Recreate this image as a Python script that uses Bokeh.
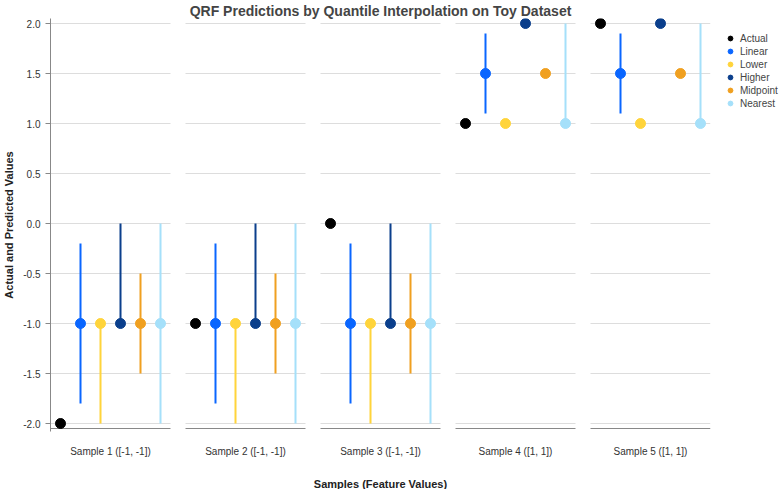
from bokeh.plotting import figure
from bokeh.models import Range1d, FixedTicker, Legend, LegendItem
from bokeh.embed import file_html
from bokeh.resources import INLINE

# data
samples = ["Sample 1 ([-1, -1])", "Sample 2 ([-1, -1])", "Sample 3 ([-1, -1])",
           "Sample 4 ([1, 1])", "Sample 5 ([1, 1])"]
actual = [-2, -1, 0, 1, 2]
methods = ["Linear", "Lower", "Higher", "Midpoint", "Nearest"]
pred = {
    "Linear":   [-1, -1, -1, 1.5, 1.5],
    "Lower":    [-1, -1, -1, 1, 1],
    "Higher":   [-1, -1, -1, 2, 2],
    "Midpoint": [-1, -1, -1, 1.5, 1.5],
    "Nearest":  [-1, -1, -1, 1, 1],
}
low = {
    "Linear":   [-1.8, -1.8, -1.8, 1.1, 1.1],
    "Lower":    [-2, -2, -2, 1, 1],
    "Higher":   [-1, -1, -1, 2, 2],
    "Midpoint": [-1.5, -1.5, -1.5, 1.5, 1.5],
    "Nearest":  [-2, -2, -2, 1, 1],
}
high = {
    "Linear":   [-0.2, -0.2, -0.2, 1.9, 1.9],
    "Lower":    [-1, -1, -1, 1, 1],
    "Higher":   [0, 0, 0, 2, 2],
    "Midpoint": [-0.5, -0.5, -0.5, 1.5, 1.5],
    "Nearest":  [0, 0, 0, 2, 2],
}
y_ticks = [-2.0, -1.5, -1.0, -0.5, 0.0, 0.5, 1.0, 1.5, 2.0]
colors = {"Actual": "#000000", "Linear": "#0a66ff", "Lower": "#ffd43b",
          "Higher": "#0b3f8c", "Midpoint": "#f0a020", "Nearest": "#a5e0fa"}

panel_w, gap, step = 120, 15, 20
starts = [i * (panel_w + gap) for i in range(len(samples))]

p = figure(frame_width=660, frame_height=413, output_backend="svg", toolbar_location=None,
           x_range=Range1d(0, starts[-1] + panel_w), y_range=Range1d(-2.08, 2.05),
           min_border_left=39, min_border_right=0, min_border_top=0, min_border_bottom=0)
p.title.text = "QRF Predictions by Quantile Interpolation on Toy Dataset"
p.title.align = "center"
p.title.text_font = "Liberation Sans"
p.title.text_font_size = "14px"
p.title.standoff = 0
p.outline_line_color = None
p.grid.visible = False

# gridlines and bottom line per panel
for s in starts:
    p.segment(x0=[s] * len(y_ticks), x1=[s + panel_w] * len(y_ticks),
              y0=y_ticks, y1=y_ticks, line_color="#dddddd", line_width=1)
    p.segment(x0=[s], x1=[s + panel_w], y0=[-2.05], y1=[-2.05], line_color="#888888", line_width=1)

items = []
r = p.scatter([s + 10 for s in starts], actual, size=10, color=colors["Actual"])
items.append(LegendItem(label="Actual", renderers=[r]))
for j, m in enumerate(methods):
    xs = [s + 10 + step * (j + 1) for s in starts]
    p.segment(x0=xs, x1=xs, y0=low[m], y1=high[m], line_color=colors[m], line_width=2)
    r = p.scatter(xs, pred[m], size=10, color=colors[m])
    items.append(LegendItem(label=m, renderers=[r]))

p.yaxis.ticker = FixedTicker(ticks=y_ticks)
p.yaxis.major_label_overrides = {t: f"{t:.1f}" for t in y_ticks}
p.yaxis.axis_label = "Actual and Predicted Values"
p.yaxis.axis_line_color = "#888888"
p.yaxis.major_tick_line_color = "#888888"
p.yaxis.minor_tick_line_color = None
p.yaxis.major_tick_out = 5
p.yaxis.major_tick_in = 0

centers = [s + panel_w / 2 for s in starts]
p.xaxis.ticker = FixedTicker(ticks=centers)
p.xaxis.major_label_overrides = {c: lab for c, lab in zip(centers, samples)}
p.xaxis.axis_label = "Samples (Feature Values)"
p.xaxis.axis_line_color = None
p.xaxis.major_tick_line_color = None
p.xaxis.minor_tick_line_color = None
p.xaxis.major_label_standoff = 8
p.xaxis.axis_label_standoff = 18

for ax in (p.xaxis, p.yaxis):
    ax.major_label_text_font = "Liberation Sans"
    ax.major_label_text_font_size = "10px"
    ax.major_label_text_color = "#333333"
    ax.axis_label_text_font = "Liberation Sans"
    ax.axis_label_text_font_size = "11px"
    ax.axis_label_text_font_style = "bold"
    ax.axis_label_text_color = "#222222"

legend = Legend(items=items, location="top_left", border_line_color=None,
                label_text_font="Liberation Sans", label_text_font_size="10px",
                glyph_width=12, glyph_height=12, label_height=12, spacing=1,
                padding=2, margin=14, label_standoff=4)
p.add_layout(legend, "right")

open("out.html", "w").write(file_html(p, INLINE))
